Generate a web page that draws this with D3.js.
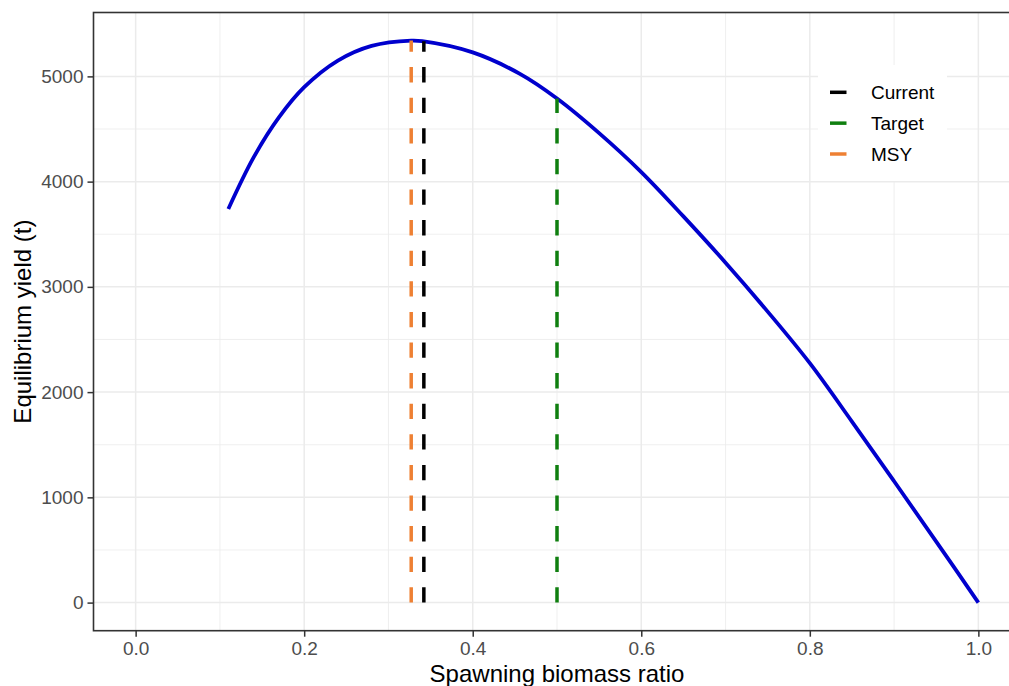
<!DOCTYPE html>
<html>
<head>
<meta charset="utf-8">
<script src="https://cdn.jsdelivr.net/npm/d3@7"></script>
<style>
  body { margin: 0; background: #fff; }
  svg { display: block; font-family: "Liberation Sans", Arial, sans-serif; }
</style>
</head>
<body>
<svg width="1009" height="686"></svg>
<script>
// equilibrium yield curve
const ratio = [0.11, 0.14, 0.17, 0.20, 0.24, 0.28, 0.327, 0.34, 0.40, 0.456, 0.50, 0.55, 0.60, 0.65, 0.70, 0.75, 0.80, 0.85, 0.90, 0.95, 1.00];
const yieldT = [3740, 4230, 4610, 4897, 5150, 5290, 5340, 5335, 5228, 5024, 4790, 4461, 4091, 3670, 3230, 2765, 2275, 1720, 1153, 580, 0];

// reference points
const refNames = ['Current', 'Target', 'MSY'];
const refRatio = [0.342, 0.5, 0.327];
const refYield = [5333, 4790, 5340];
const refColors = ['#000000', '#0f7f0f', '#EE8033'];

const xTicks = [0, 0.2, 0.4, 0.6, 0.8, 1.0];
const yTicks = [0, 1000, 2000, 3000, 4000, 5000];

const svg = d3.select('svg');

const panel = { left: 93.5, right: 1020.5, top: 12.5, bottom: 630.7 };

const xScale = d3.scaleLinear()
    .domain([-0.05, 1.05])
    .range([panel.left, panel.right]);

const yScale = d3.scaleLinear()
    .domain([-267, 5607])
    .range([panel.bottom, panel.top]);

// grid
const grid = svg.append('g');
const xMinor = [0.1, 0.3, 0.5, 0.7, 0.9];
const yMinor = [500, 1500, 2500, 3500, 4500];

grid.selectAll('.xminor').data(xMinor).enter().append('line')
    .attr('x1', d => xScale(d)).attr('x2', d => xScale(d))
    .attr('y1', panel.top).attr('y2', panel.bottom)
    .attr('stroke', '#EBEBEB').attr('stroke-width', 0.8);
grid.selectAll('.yminor').data(yMinor).enter().append('line')
    .attr('y1', d => yScale(d)).attr('y2', d => yScale(d))
    .attr('x1', panel.left).attr('x2', panel.right)
    .attr('stroke', '#EBEBEB').attr('stroke-width', 0.8);
grid.selectAll('.xmajor').data(xTicks).enter().append('line')
    .attr('x1', d => xScale(d)).attr('x2', d => xScale(d))
    .attr('y1', panel.top).attr('y2', panel.bottom)
    .attr('stroke', '#EBEBEB').attr('stroke-width', 1.5);
grid.selectAll('.ymajor').data(yTicks).enter().append('line')
    .attr('y1', d => yScale(d)).attr('y2', d => yScale(d))
    .attr('x1', panel.left).attr('x2', panel.right)
    .attr('stroke', '#EBEBEB').attr('stroke-width', 1.5);

// curve
const curveData = ratio.map((r, i) => ({ r: r, y: yieldT[i] }));
const line = d3.line()
    .x(d => xScale(d.r))
    .y(d => yScale(d.y))
    .curve(d3.curveCatmullRom);

svg.append('path')
    .datum(curveData)
    .attr('d', line)
    .attr('fill', 'none')
    .attr('stroke', '#0000CD')
    .attr('stroke-width', 3.8);

// reference segments, drawn from zero upward
const refs = refNames.map((n, i) => ({ name: n, r: refRatio[i], y: refYield[i], color: refColors[i] }));
svg.selectAll('.ref').data(refs).enter().append('line')
    .attr('x1', d => xScale(d.r)).attr('x2', d => xScale(d.r))
    .attr('y1', yScale(0)).attr('y2', d => yScale(d.y))
    .attr('stroke', d => d.color)
    .attr('stroke-width', 3.5)
    .attr('stroke-dasharray', '15.3 15.3');

// legend
const legend = svg.append('g');
legend.append('rect')
    .attr('x', 818).attr('y', 65).attr('width', 129).attr('height', 116)
    .attr('fill', '#fff');
const lg = legend.selectAll('.key').data(refs).enter().append('g')
    .attr('transform', (d, i) => `translate(830, ${92.3 + i * 30.85})`);
lg.append('line')
    .attr('x1', 0).attr('x2', 16.5)
    .attr('stroke', d => d.color)
    .attr('stroke-width', 3.5);
lg.append('text')
    .attr('x', 41)
    .attr('dy', '0.35em')
    .attr('font-size', 19)
    .attr('fill', '#000')
    .text(d => d.name);

// panel border
svg.append('rect')
    .attr('x', panel.left).attr('y', panel.top)
    .attr('width', panel.right - panel.left).attr('height', panel.bottom - panel.top)
    .attr('fill', 'none').attr('stroke', '#333333').attr('stroke-width', 1.6);

// axes
const xAxis = d3.axisBottom(xScale).tickValues(xTicks).tickFormat(d3.format('.1f')).tickSize(6).tickPadding(5);
const yAxis = d3.axisLeft(yScale).tickValues(yTicks).tickFormat(d3.format('d')).tickSize(6).tickPadding(4);

const gx = svg.append('g').attr('transform', `translate(0, ${panel.bottom})`).call(xAxis);
const gy = svg.append('g').attr('transform', `translate(${panel.left}, 0)`).call(yAxis);

[gx, gy].forEach(g => {
    g.select('.domain').remove();
    g.selectAll('.tick line').attr('stroke', '#333333').attr('stroke-width', 1.5);
    g.selectAll('.tick text').attr('fill', '#4D4D4D').attr('font-size', 19)
        .attr('font-family', '"Liberation Sans", Arial, sans-serif');
});

// titles
svg.append('text')
    .attr('x', (panel.left + panel.right) / 2)
    .attr('y', 682)
    .attr('text-anchor', 'middle')
    .attr('font-size', 24)
    .attr('fill', '#000')
    .text('Spawning biomass ratio');

svg.append('text')
    .attr('transform', `translate(30.5, ${(panel.top + panel.bottom) / 2}) rotate(-90)`)
    .attr('text-anchor', 'middle')
    .attr('font-size', 24)
    .attr('fill', '#000')
    .text('Equilibrium yield (t)');
</script>
</body>
</html>
